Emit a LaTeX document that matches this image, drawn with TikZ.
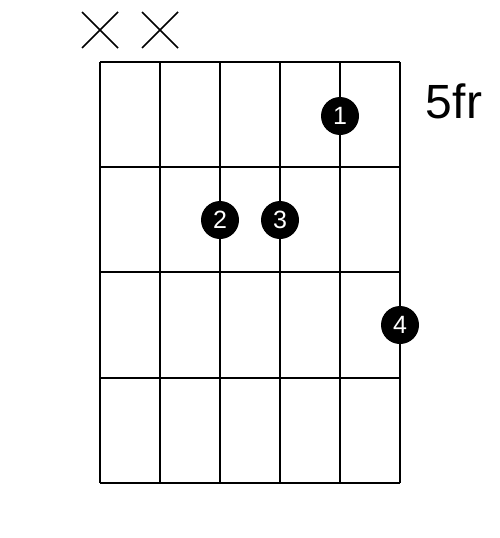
\documentclass[tikz,border=0pt]{standalone}
\usepackage{fontspec}
\setmainfont{Liberation Sans}
\usepackage{xcolor}

\begin{document}
\begin{tikzpicture}
  [x=1pt, y=-1pt,
   fret/.style={line width=2pt},
   mute/.style={line width=1.5pt},
   finger/.style={circle, fill=black, text=white, inner sep=0pt,
                  minimum size=38pt, font=\fontsize{25}{25}\selectfont},
  ]
  \useasboundingbox (0,0) rectangle (500,538);

  % strings
  \draw[fret] (100,62) -- (100,483);
  \draw[fret] (160,62) -- (160,483);
  \draw[fret] (220,62) -- (220,483);
  \draw[fret] (280,62) -- (280,483);
  \draw[fret] (340,62) -- (340,483);
  \draw[fret] (400,62) -- (400,483);

  % frets
  \draw[fret] (100,62) -- (400,62);
  \draw[fret] (100,167) -- (400,167);
  \draw[fret] (100,272) -- (400,272);
  \draw[fret] (100,378) -- (400,378);
  \draw[fret] (100,483) -- (400,483);

  % muted strings
  \draw[mute] (82,12) -- (118,48) (82,48) -- (118,12);
  \draw[mute] (142,12) -- (178,48) (142,48) -- (178,12);

  \node[finger] (f1) at (340,116) {1};
  \node[finger] (f2) at (220,220) {2};
  \node[finger] (f3) at (280,220) {3};
  \node[finger] (f4) at (400,325) {4};

  \node[font=\fontsize{48}{48}\selectfont] (pos) at (454,101) {5fr};
\end{tikzpicture}
\end{document}
